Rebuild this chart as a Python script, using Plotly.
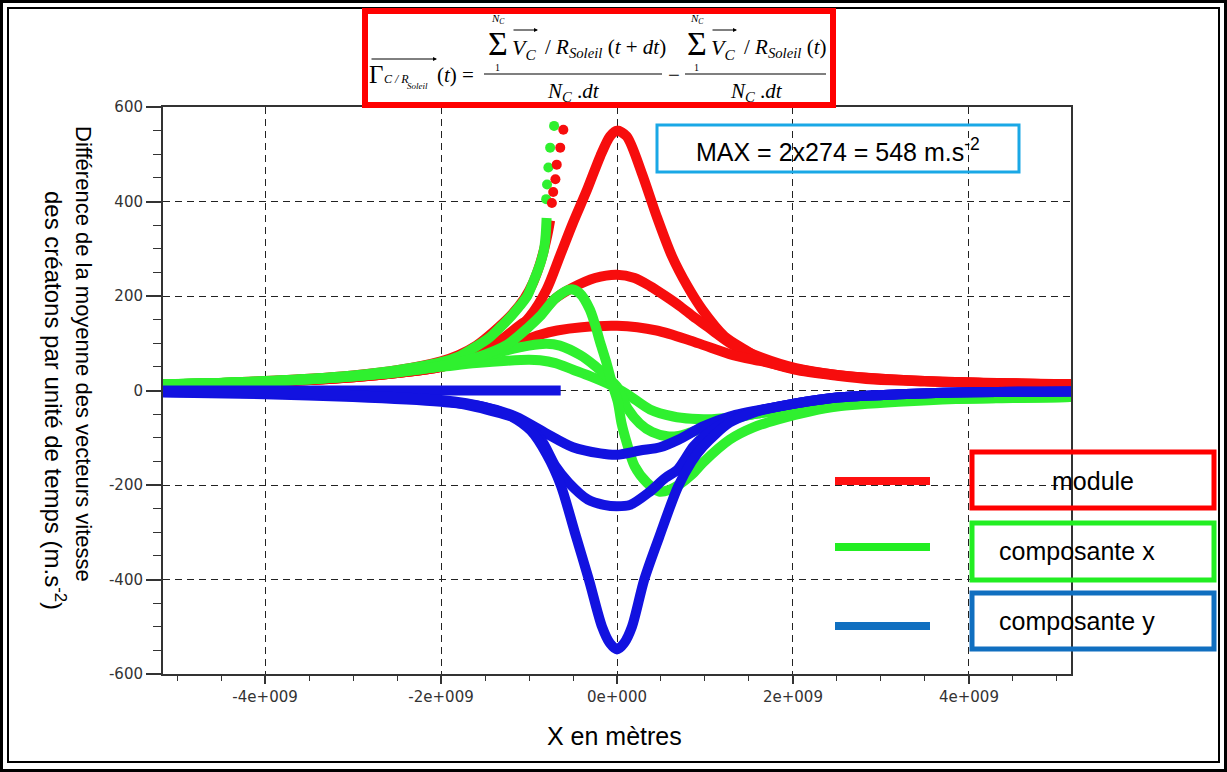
import plotly.graph_objects as go

# ---------------- data (x in units of 1e9 m, y in m/s^2) ----------------
X_UNIT = 1e9

# module (red)
RED_A_X = [-5.16, -4.5, -4, -3.5, -3, -2.5, -2, -1.7, -1.44, -1.22, -0.99, -0.8, -0.65, -0.5, -0.34, -0.19, -0.08, 0,
           0.11, 0.28, 0.45, 0.625, 0.8, 0.97, 1.22, 1.44, 1.64, 2.02, 2.5, 2.92, 3.5, 4.05, 4.6, 5.16]
RED_A_Y = [12, 15, 18, 22, 28, 37, 50, 68, 94, 115, 157, 214, 284, 355, 425, 496, 538, 550,
           538, 461, 369, 284, 221, 171, 115, 88, 66, 44, 31, 23, 19, 17, 15, 13]
RED_B_X = [-5.16, -4, -3, -2.5, -2, -1.64, -1.3, -1.07, -0.875, -0.7, -0.5, -0.25, 0, 0.2, 0.375, 0.55, 0.72, 0.87,
           1.02, 1.17, 1.32, 1.64, 2.02, 2.5, 3, 4, 5.16]
RED_B_Y = [12, 18, 28, 37, 50, 72, 110, 143, 163, 195, 218, 238, 245, 238, 221, 200, 178, 156,
           136, 115, 96, 70, 48, 33, 25, 17, 13]
RED_C_X = [-5.16, -4, -3, -2, -1.7, -1.25, -0.875, -0.68, -0.4, 0, 0.45, 0.83, 1.0, 1.32, 1.64, 2.02, 2.5, 3, 4, 5.16]
RED_C_Y = [12, 18, 28, 50, 68, 94, 118, 127, 134, 137, 127, 106, 95, 75, 62, 46, 33, 25, 17, 13]
RED_D_X = [-5.16, -4.5, -4, -3.5, -3, -2.5, -2, -1.8, -1.6, -1.4, -1.2, -1.05, -0.95, -0.88, -0.83, -0.79, -0.76]
RED_D_Y = [13, 16, 20, 25, 32, 43, 62, 75, 95, 125, 160, 195, 230, 265, 298, 330, 360]
RED_D_DOT_X = [-0.74, -0.725, -0.70, -0.685, -0.645, -0.61]
RED_D_DOT_Y = [397, 420, 447, 478, 514, 552]

# composante x (green)
GRN_A_X = [-5.16, -4.5, -4, -3.5, -3, -2.5, -2, -1.6, -1.25, -1.0, -0.875, -0.7, -0.53, -0.42, -0.31, -0.25, -0.19,
           -0.12, -0.06, 0.01, 0.05, 0.11, 0.2, 0.34, 0.48, 0.6, 0.7, 0.85, 0.98, 1.28, 1.55, 1.83, 2.2, 2.5, 3.2,
           3.85, 4.5, 5.16]
GRN_A_Y = [13, 16, 19, 24, 30, 38, 52, 70, 97, 135, 157, 195, 214, 205, 172, 140, 101,
           59, 17, -25, -68, -110, -160, -195, -214, -210, -200, -178, -152, -104, -78, -61, -44, -34, -24,
           -18, -16, -14]
GRN_B_X = [-5.16, -4, -3, -2, -1.6, -1.3, -1.0, -0.8, -0.65, -0.42, -0.25, -0.12, 0, 0.12, 0.26, 0.4, 0.57, 0.7,
           0.83, 1.0, 1.2, 1.5, 1.83, 2.2, 2.5, 3.2, 3.85, 5.16]
GRN_B_Y = [13, 19, 30, 52, 68, 83, 95, 99, 95, 75, 52, 30, 8, -38, -70, -88, -97, -96,
           -89, -78, -66, -52, -42, -33, -28, -21, -17, -14]
GRN_C_X = [-5.16, -4, -3, -2, -1.6, -1.25, -1.0, -0.875, -0.7, -0.5, -0.3, -0.11, 0, 0.15, 0.375, 0.64, 0.85, 1.02,
           1.3, 1.6, 2.0, 2.5, 3.2, 3.85, 5.16]
GRN_C_Y = [13, 19, 30, 50, 58, 63, 65, 64, 58, 44, 30, 15, 5, -12, -40, -55, -60, -61,
           -57, -49, -39, -29, -21, -17, -14]
GRN_D_X = [-5.16, -4.5, -4, -3.5, -3, -2.5, -2, -1.8, -1.63, -1.45, -1.33, -1.2, -1.1, -1.02, -0.93, -0.87, -0.83,
           -0.81, -0.80]
GRN_D_Y = [13, 16, 20, 25, 32, 43, 60, 72, 90, 112, 133, 158, 180, 200, 240, 270, 298, 330, 365]
GRN_D_DOT_X = [-0.805, -0.795, -0.78, -0.76, -0.715]
GRN_D_DOT_Y = [405, 436, 472, 514, 560]

# composante y (blue)
BLU_A_X = [-5.16, -4, -3, -2, -1.5, -1.2, -0.98, -0.8, -0.64, -0.48, -0.32, -0.17, -0.08, 0, 0.08, 0.17, 0.31, 0.48,
           0.69, 0.85, 0.98, 1.28, 1.55, 1.83, 2.5, 3.2, 3.85, 5.16]
BLU_A_Y = [-2, -5, -10, -20, -35, -55, -85, -135, -200, -300, -400, -500, -535, -548, -535, -500, -400, -310,
           -205, -150, -118, -68, -47, -34, -15, -8, -4, -2]
BLU_B_X = [-5.16, -4, -3, -2, -1.6, -1.35, -1.1, -0.86, -0.7, -0.55, -0.33, -0.15, 0, 0.15, 0.36, 0.55, 0.69, 0.87,
           1.0, 1.28, 1.55, 1.83, 2.5, 3.2, 3.85, 5.16]
BLU_B_Y = [-3, -6, -12, -22, -35, -47, -62, -105, -160, -195, -231, -242, -245, -242, -216, -185, -167, -118,
           -95, -62, -45, -34, -15, -8, -4, -2]
BLU_C_X = [-5.16, -4, -3, -2, -1.55, -1.15, -0.82, -0.5, -0.19, 0, 0.26, 0.49, 0.7, 0.98, 1.28, 1.83, 2.5, 3.2,
           3.85, 5.16]
BLU_C_Y = [-4, -8, -14, -24, -33, -55, -89, -120, -133, -136, -127, -120, -104, -76, -55, -34, -15, -8, -4, -2]
BLU_D_X = [-5.16, -4, -3, -2, -1, -0.64]
BLU_D_Y = [0, 0, 0, 0, 0, 0]

# axes
X_TICKS = [-4, -2, 0, 2, 4]
X_TICK_TEXT = ["-4e+009", "-2e+009", "0e+000", "2e+009", "4e+009"]
X_MINOR = [-5, -4.5, -4, -3.5, -3, -2.5, -2, -1.5, -1, -0.5, 0, 0.5, 1, 1.5, 2, 2.5, 3, 3.5, 4, 4.5, 5]
Y_TICKS = [-600, -400, -200, 0, 200, 400, 600]
Y_TICK_TEXT = ["-600", "-400", "-200", "0", "200", "400", "600"]
LEGEND_LABELS = ["module", "composante x", "composante y"]

# ---------------- styling ----------------
RED = "#f70d0d"
GREEN = "#2ff02f"
BLUE = "#1212e0"
LEG_BLUE = "#106fc0"
LW = 10

W, H = 1227, 772
L, R, T, B = 163, 156, 107, 98
PW, PH = W - L - R, H - T - B


def px(x):
    return (x - L) / PW


def py(y):
    return (H - B - y) / PH


def xs(vals):
    return [v * X_UNIT for v in vals]


fig = go.Figure()


def curve(xv, yv, color):
    fig.add_trace(go.Scatter(x=xs(xv), y=yv, mode="lines",
                             line=dict(color=color, width=LW, shape="spline", smoothing=0.8),
                             hoverinfo="skip", showlegend=False))


def dots(xv, yv, color):
    fig.add_trace(go.Scatter(x=xs(xv), y=yv, mode="markers",
                             marker=dict(color=color, size=10, line=dict(width=0)),
                             hoverinfo="skip", showlegend=False))


curve(RED_D_X, RED_D_Y, RED)
curve(RED_A_X, RED_A_Y, RED)
curve(RED_B_X, RED_B_Y, RED)
curve(RED_C_X, RED_C_Y, RED)
curve(GRN_D_X, GRN_D_Y, GREEN)
dots(GRN_D_DOT_X, GRN_D_DOT_Y, GREEN)
dots(RED_D_DOT_X, RED_D_DOT_Y, RED)
curve(GRN_C_X, GRN_C_Y, GREEN)
curve(GRN_B_X, GRN_B_Y, GREEN)
curve(GRN_A_X, GRN_A_Y, GREEN)
curve(BLU_D_X, BLU_D_Y, BLUE)
curve(BLU_C_X, BLU_C_Y, BLUE)
curve(BLU_B_X, BLU_B_Y, BLUE)
curve(BLU_A_X, BLU_A_Y, BLUE)

tickfont = dict(family="DejaVu Sans", size=15, color="#333")
fig.update_xaxes(range=[-5.16 * X_UNIT, 5.16 * X_UNIT], tickmode="array",
                 tickvals=xs(X_TICKS), ticktext=X_TICK_TEXT, tickfont=tickfont,
                 ticks="outside", ticklen=8, tickwidth=1.5, tickcolor="#333",
                 showline=True, linecolor="#333", linewidth=2, mirror=True,
                 showgrid=True, gridcolor="#222", gridwidth=1.3, griddash="7px,5px",
                 zeroline=False,
                 minor=dict(tickvals=xs(X_MINOR), ticks="outside", ticklen=5, tickcolor="#333",
                            tickwidth=1.2, showgrid=False))
fig.update_yaxes(range=[-600, 600], tickmode="array", tickvals=Y_TICKS, ticktext=Y_TICK_TEXT,
                 tickfont=tickfont, ticks="outside", ticklen=15, tickwidth=1.5, tickcolor="#333",
                 showline=True, linecolor="#333", linewidth=2, mirror=True,
                 showgrid=True, gridcolor="#222", gridwidth=1.3, griddash="7px,5px",
                 zeroline=False,
                 minor=dict(dtick=50, tick0=0, ticks="outside", ticklen=8, tickcolor="#333",
                            tickwidth=1.2, showgrid=False))

shapes = []


def rect(x0, y0, x1, y1, color, width):
    shapes.append(dict(type="rect", xref="paper", yref="paper", x0=px(x0), x1=px(x1), y0=py(y1), y1=py(y0),
                       line=dict(color=color, width=width), fillcolor="rgba(0,0,0,0)", layer="above"))


def hline(x0, x1, y, color, width):
    shapes.append(dict(type="line", xref="paper", yref="paper", x0=px(x0), x1=px(x1), y0=py(y), y1=py(y),
                       line=dict(color=color, width=width), layer="above"))


# outer double frame
rect(1.5, 1.5, 1225.5, 770.5, "black", 3)
rect(8, 8, 1219, 762, "black", 2)
# formula box
rect(365, 11, 833, 105, "#ff0000", 6)
# MAX box
rect(657, 125, 1019, 172, "#1aa8e6", 3)
# legend
hline(835, 930, 481, "#ff1010", 8)
hline(835, 930, 547, "#22ee22", 8)
hline(835, 930, 626, LEG_BLUE, 8)
rect(972, 452, 1214, 508, "#ff0000", 5)
rect(972, 523, 1214, 580, "#22ee22", 5)
rect(972, 593, 1214, 649, LEG_BLUE, 5)
# fraction bars
hline(484, 662, 74, "black", 1.2)
hline(685, 826, 74, "black", 1.2)

ann = []


def text(t, x, y, size, family="Liberation Sans", xanchor="center", yanchor="middle", angle=0, color="black"):
    ann.append(dict(text=t, x=px(x), y=py(y), xref="paper", yref="paper", showarrow=False,
                    font=dict(family=family, size=size, color=color), xanchor=xanchor, yanchor=yanchor,
                    textangle=angle, borderpad=0))


def arrow(x0, x1, y):
    ann.append(dict(text="", x=px(x1), y=py(y), xref="paper", yref="paper", ax=x0 - x1, ay=0,
                    axref="pixel", ayref="pixel", showarrow=True, arrowhead=2, arrowsize=0.8,
                    arrowwidth=1, arrowcolor="black", standoff=0, startstandoff=0))


SERIF = "Liberation Serif"
# formula
text("Γ", 376, 74, 25, SERIF)
text("<i>C / R</i>", 383, 79, 12, SERIF, xanchor="left")
text("<i>Soleil</i>", 406, 86, 9, SERIF, xanchor="left")
arrow(370, 437, 59)
text("(<i>t</i>) =", 436, 75, 21, SERIF, xanchor="left")
text("−", 674, 75, 21, SERIF)
for sx, vx, rest, dx in [(498, 511, "/ <i>R</i><sub><i>Soleil</i></sub> (<i>t</i> + <i>dt</i>)", 573),
                         (697, 710, "/ <i>R</i><sub><i>Soleil</i></sub> (<i>t</i>)", 756)]:
    text("Σ", sx, 43, 34, SERIF)
    text("<i>N</i><sub><i>C</i></sub>", sx, 19, 11, SERIF)
    text("1", sx - 1, 68, 10, SERIF)
    text("<i>V</i><sub><i>C</i></sub>", vx, 49, 22, SERIF, xanchor="left")
    arrow(vx + 1, vx + 27, 30)
    text(rest, vx + 33, 48, 21, SERIF, xanchor="left")
    text("<i>N</i><sub><i>C</i></sub> .<i>dt</i>", dx, 92, 21, SERIF)

# MAX note
text("MAX = 2x274 = 548 m.s<sup>-2</sup>", 838, 150, 25)
# legend labels
text(LEGEND_LABELS[0], 1093, 481, 25)
text(LEGEND_LABELS[1], 1077, 551, 25)
text(LEGEND_LABELS[2], 1077, 621, 25)
# axis titles
text("X en mètres", 614, 736, 25)
text("Différence de la moyenne des vecteurs vitesse", 84, 354, 22, angle=90)
text("des créatons par unité de temps (m.s<sup>-2</sup>)", 55, 400, 24, angle=90)

fig.update_layout(width=W, height=H, margin=dict(l=L, r=R, t=T, b=B, pad=0),
                  paper_bgcolor="white", plot_bgcolor="white", showlegend=False,
                  shapes=shapes, annotations=ann)

fig.write_html("out.html", config={"displayModeBar": False})
